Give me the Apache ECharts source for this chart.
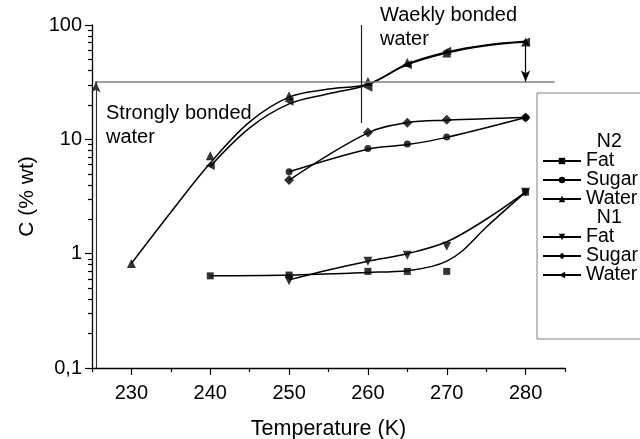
<!DOCTYPE html>
<html>
<head>
<meta charset="utf-8">
<script src="https://cdn.jsdelivr.net/npm/echarts@6/dist/echarts.min.js"></script>
<style>
html,body{margin:0;padding:0;background:#fff;}
#chart{width:640px;height:439px;}
</style>
</head>
<body>
<div id="chart"></div>
<script>
// tick labels
var xTicks=[230,240,250,260,270,280];
var xMinorTicks=[225,235,245,255,265,275,285];
var yTicks=[0.1,1,10,100];
var yMinorTicks=[0.2,0.3,0.4,0.5,0.6,0.7,0.8,0.9,2,3,4,5,6,7,8,9,20,30,40,50,60,70,80,90];

// measured points (markers)
var n2FatT=[240,250,260,265,270,280];
var n2FatC=[0.64,0.65,0.70,0.70,0.70,3.45];
var n2SugarT=[250,260,265,270,280];
var n2SugarC=[5.2,8.3,9.1,10.5,15.5];
var n2WaterT=[230,240,250,260,265,270,280];
var n2WaterC=[0.82,7.2,24,32,47,57,71];
var n1FatT=[250,260,265,270,280];
var n1FatC=[0.58,0.86,0.97,1.16,3.45];
var n1SugarT=[250,260,265,270,280];
var n1SugarC=[4.4,11.5,14,14.8,15.5];
var n1WaterT=[240,250,260,265,270,280];
var n1WaterC=[5.9,21.5,28.5,45,59,71];

// fitted curves
var n2FatCurveT=[240,250,260,265,268,270,272,275,280];
var n2FatCurveC=[0.64,0.65,0.685,0.71,0.77,0.86,1.06,1.7,3.45];
var n2SugarCurveT=[250,260,265,270,280];
var n2SugarCurveC=[5.2,8.2,9.0,10.4,15.5];
var n2WaterCurveT=[230,235,240,245,250,255,260,265,270,275,280];
var n2WaterCurveC=[0.82,2.3,6.2,14.2,23.4,27.5,30.5,45.6,58,66.8,72];
var n1FatCurveT=[250,255,260,265,270,275,280];
var n1FatCurveC=[0.59,0.72,0.86,1.0,1.27,2.0,3.45];
var n1SugarCurveT=[250,260,265,270,280];
var n1SugarCurveC=[4.4,11.4,14,14.7,15.5];
var n1WaterCurveT=[240,245,250,255,260,265,270,275,280];
var n1WaterCurveC=[5.8,12.6,20.4,25,30,45,57,66,71];

// annotation positions
var bondLimit=32;      // horizontal boundary C
var bondTemp=259.2;    // vertical boundary T

var font='Liberation Sans';

function pairs(xs,ys){
    return xs.map(function(x,i){return [x,ys[i]];});
}

var groups=[
    {name:'N2 Fat',  symbol:'rect',     size:7, rotate:0,   t:n2FatT,  c:n2FatC,  ct:n2FatCurveT,  cc:n2FatCurveC},
    {name:'N2 Sugar',symbol:'circle',   size:7, rotate:0,   t:n2SugarT,c:n2SugarC,ct:n2SugarCurveT,cc:n2SugarCurveC},
    {name:'N2 Water',symbol:'triangle', size:9, rotate:0,   t:n2WaterT,c:n2WaterC,ct:n2WaterCurveT,cc:n2WaterCurveC},
    {name:'N1 Fat',  symbol:'triangle', size:9, rotate:180, t:n1FatT,  c:n1FatC,  ct:n1FatCurveT,  cc:n1FatCurveC},
    {name:'N1 Sugar',symbol:'diamond',  size:10,rotate:0,   t:n1SugarT,c:n1SugarC,ct:n1SugarCurveT,cc:n1SugarCurveC},
    {name:'N1 Water',symbol:'triangle', size:9, rotate:90,  t:n1WaterT,c:n1WaterC,ct:n1WaterCurveT,cc:n1WaterCurveC}
];

var series=[];
// legend headers
series.push({name:'N2',type:'line',data:[]});
series.push({name:'N1',type:'line',data:[]});

groups.forEach(function(g){
    // fitted curve
    series.push({
        name:g.name,
        type:'line',
        smooth:0.35,
        showSymbol:false,
        symbol:g.symbol,
        symbolRotate:g.rotate,
        data:pairs(g.ct,g.cc),
        lineStyle:{color:'#000',width:1.5},
        itemStyle:{color:'#000'},
        silent:true
    });
    // markers
    series.push({
        type:'scatter',
        symbol:g.symbol,
        symbolSize:g.size,
        symbolRotate:g.rotate,
        data:pairs(g.t,g.c),
        itemStyle:{color:'#000'},
        silent:true
    });
});

// boundary lines and arrows
series.push({
    type:'line',
    data:[],
    clip:false,
    silent:true,
    markLine:{
        silent:true,
        animation:false,
        label:{show:false},
        symbolSize:[7,11],
        data:[
            [{coord:[225.4,bondLimit],symbol:'none',lineStyle:{color:'#808080',width:1.5,type:'solid'}},
             {coord:[283.7,bondLimit],symbol:'none'}],
            [{coord:[bondTemp,13.9],symbol:'none',lineStyle:{color:'#222',width:1.2,type:'solid'}},
             {coord:[bondTemp,100],symbol:'none'}],
            [{coord:[280,71],symbol:'none',lineStyle:{color:'#000',width:1.2,type:'solid'}},
             {coord:[280,bondLimit],symbol:'arrow'}],
            [{coord:[225.5,0.1],symbol:'none',lineStyle:{color:'#333',width:1.2,type:'solid'}},
             {coord:[225.5,bondLimit],symbol:'arrow'}]
        ]
    }
});

var chart=echarts.init(document.getElementById('chart'));
var option={
    animation:false,
    backgroundColor:'#fff',
    textStyle:{fontFamily:font,color:'#000'},
    grid:{left:92,right:75,top:25,bottom:71,outerBoundsMode:'none'},
    legend:{
        orient:'vertical',
        left:537,
        top:93,
        padding:[39,40,54,5],
        borderColor:'#808080',
        borderWidth:1,
        itemWidth:38,
        itemHeight:8,
        itemGap:-1,
        selectedMode:false,
        textStyle:{fontFamily:font,fontSize:19.5,lineHeight:18,color:'#000'},
        formatter:function(name){
            if(name==='N2'||name==='N1') return '  '+name;
            return name.replace(/^N\d /,'');
        },
        data:[
            {name:'N2',icon:'none'},'N2 Fat','N2 Sugar','N2 Water',
            {name:'N1',icon:'none'},'N1 Fat','N1 Sugar','N1 Water'
        ]
    },
    xAxis:[{
        type:'value',
        min:225,max:285,interval:5,
        name:'Temperature (K)',
        nameLocation:'middle',
        nameGap:50,
        nameTextStyle:{fontFamily:font,fontSize:21.5,color:'#000'},
        axisLine:{lineStyle:{color:'#000',width:1.3}},
        axisTick:{length:4,customValues:xMinorTicks,lineStyle:{color:'#000',width:1.2}},
        axisLabel:{customValues:xTicks,margin:15,fontFamily:font,fontSize:20,color:'#000'},
        splitLine:{show:false}
    },{
        type:'value',
        min:225,max:285,interval:5,
        position:'bottom',
        axisLine:{show:false},
        axisTick:{length:7,customValues:xTicks,lineStyle:{color:'#000',width:1.2}},
        axisLabel:{show:false},
        splitLine:{show:false}
    }],
    yAxis:[{
        type:'log',
        logBase:10,
        min:0.1,max:100,
        name:'C (% wt)',
        nameLocation:'middle',
        nameGap:41,
        nameTextStyle:{fontFamily:font,fontSize:21,color:'#000'},
        axisLine:{show:true,lineStyle:{color:'#000',width:1.3}},
        axisTick:{show:true,length:4,customValues:yMinorTicks,lineStyle:{color:'#000',width:1.2}},
        axisLabel:{
            customValues:yTicks,
            margin:10,
            fontFamily:font,fontSize:20,color:'#000',
            formatter:function(v){return String(v).replace('.',',');}
        },
        splitLine:{show:false}
    },{
        type:'log',
        logBase:10,
        min:0.1,max:100,
        position:'left',
        axisLine:{show:false},
        axisTick:{show:true,length:7,customValues:yTicks,lineStyle:{color:'#000',width:1.2}},
        axisLabel:{show:false},
        splitLine:{show:false}
    }],
    graphic:[
        {type:'text',left:106,top:101,silent:true,
         style:{text:'Strongly bonded\nwater',fontFamily:font,fontSize:20,lineHeight:24,fill:'#000'}},
        {type:'text',left:380,top:3,silent:true,
         style:{text:'Waekly bonded\nwater',fontFamily:font,fontSize:20,lineHeight:24,fill:'#000'}}
    ],
    series:series
};
chart.setOption(option);
</script>
</body>
</html>
